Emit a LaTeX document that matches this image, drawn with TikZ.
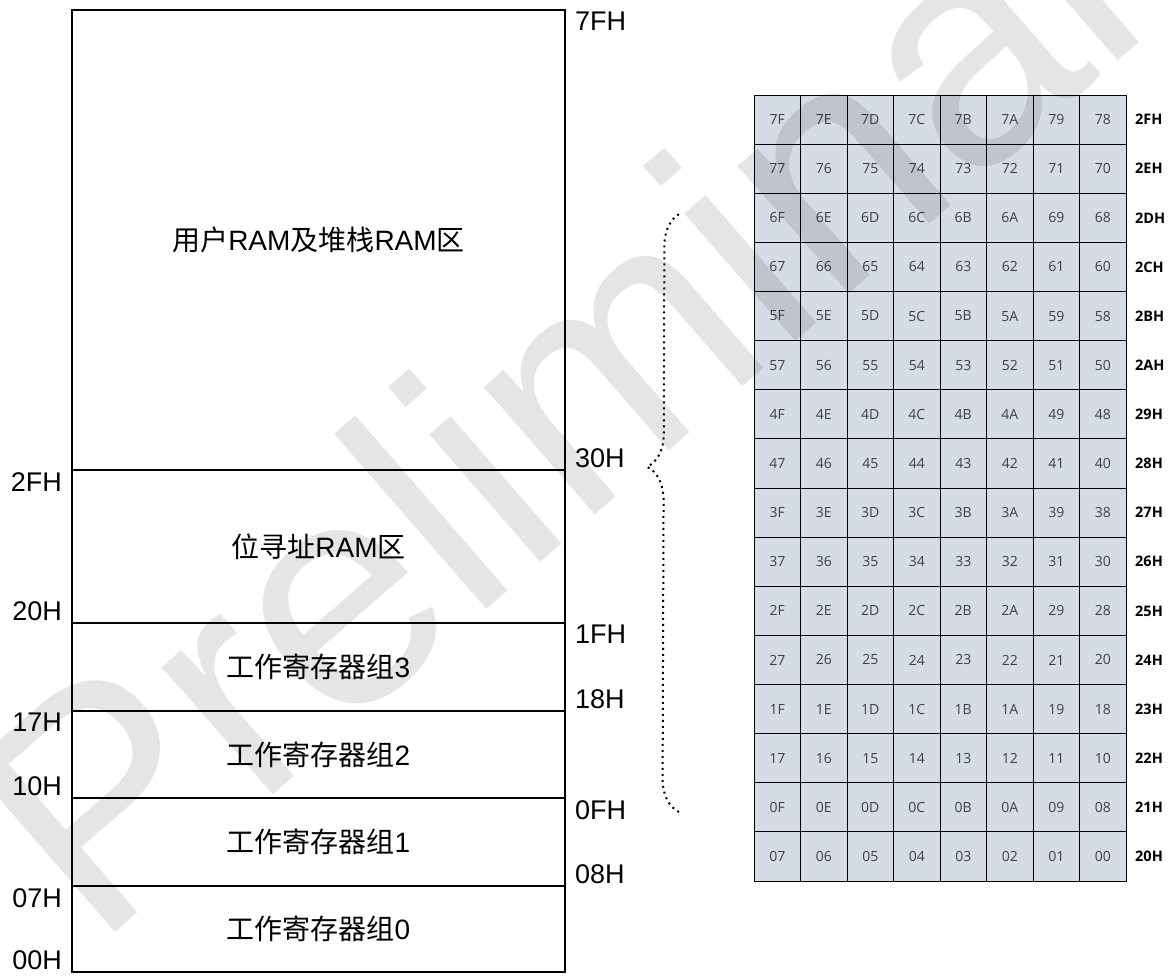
\documentclass[tikz,border=0pt]{standalone}
\usepackage{fontspec}
\setmainfont{Liberation Sans}
\newfontfamily\cjkfont{Noto Sans CJK SC}
\newfontfamily\cellfont{Open Sans}
\usetikzlibrary{decorations.pathreplacing}
\definecolor{cellblue}{RGB}{214,220,229}
\definecolor{celltext}{RGB}{64,64,64}
\newcommand{\zh}[1]{{\cjkfont #1}}

\begin{document}
\begin{tikzpicture}[x=1pt,y=-1pt,
        boxline/.style={draw=black,line width=1.2pt},
        addr/.style={inner sep=2pt,font=\fontsize{27}{32}\selectfont},
        area/.style={inner sep=0pt,font=\fontsize{28}{34}\selectfont},
        bitcell/.style={draw=black,line width=1pt,fill=cellblue,text=celltext,minimum width=46.5pt,minimum height=49.125pt,inner sep=0pt,font=\cellfont\fontsize{14}{16}\selectfont},
        rowaddr/.style={inner sep=2pt,font=\cellfont\bfseries\fontsize{14.5}{16}\selectfont},
        bracedots/.style={line width=2pt,dash pattern=on 2pt off 4pt,decorate,decoration={brace,amplitude=33pt,aspect=0.576}},
        watermark/.style={inner sep=0pt,text=black,text opacity=0.1,font=\fontsize{320}{320}\selectfont}]

    \useasboundingbox (0,0) rectangle (1175,975);

    \foreach \top/\bot/\txt/\nm in {
            10/470/{\zh{用户}RAM\zh{及堆栈}RAM\zh{区}}/usr,
            470/623/{\zh{位寻址}RAM\zh{区}}/bitarea,
            623/711/{\zh{工作寄存器组}3}/rb3,
            711/798/{\zh{工作寄存器组}2}/rb2,
            798/886/{\zh{工作寄存器组}1}/rb1,
            886/972/{\zh{工作寄存器组}0}/rb0}
        {
            \draw[boxline] (72,\top) rectangle (565,\bot);
            \node[area] (\nm) at (318.5,{(\top+\bot)/2}) {\txt};
        }

    \foreach \lbl/\y in {2FH/470,17H/711,07H/886}
        \node[addr,anchor=north east] (l\lbl) at (64,\y) {\lbl};
    \foreach \lbl/\y in {20H/623,10H/798,00H/972}
        \node[addr,anchor=south east] (l\lbl) at (64,\y) {\lbl};
    \foreach \lbl/\y in {7FH/10,1FH/623,0FH/798}
        \node[addr,anchor=north west] (r\lbl) at (573,\y) {\lbl};
    \foreach \lbl/\y in {30H/470,18H/711,08H/886}
        \node[addr,anchor=south west] (r\lbl) at (573,\y) {\lbl};

    \coordinate (braceBot) at (679,812);
    \coordinate (braceTop) at (681,213);
    \draw[bracedots] (braceBot) -- (braceTop);

    \foreach \r in {0,...,15} {
        \foreach \c in {0,...,7} {
            \pgfmathtruncatemacro\bitno{(15-\r)*8+7-\c}
            \pgfmathparse{Hex(\bitno)}\edef\bithex{\pgfmathresult}
            \ifnum\bitno<16 \edef\bithex{0\bithex}\fi
            \node[bitcell] (b\bithex) at ({777.25+46.5*\c},{119.5625+49.125*\r}) {\bithex};
        }
        \pgfmathtruncatemacro\byteno{47-\r}
        \pgfmathparse{Hex(\byteno)}\edef\rowhex{\pgfmathresult}
        \node[rowaddr,anchor=west] (row\rowhex) at (1133,{119.5625+49.125*\r}) {\rowhex H};
    }

    \node[watermark,rotate=41,anchor=base west] (wm) at (95,950) {Preliminary};

\end{tikzpicture}
\end{document}
